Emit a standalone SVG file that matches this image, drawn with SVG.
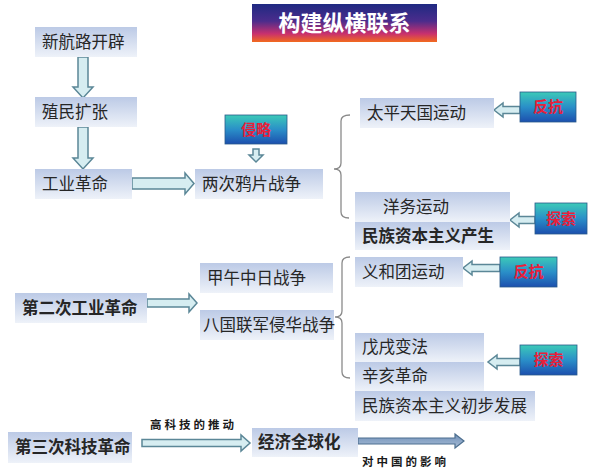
<svg xmlns="http://www.w3.org/2000/svg" width="592" height="474" viewBox="0 0 592 474">
<defs>
<linearGradient id="gBox" x1="0" y1="0" x2="0" y2="1">
<stop offset="0" stop-color="#bccae6"/>
<stop offset="1" stop-color="#eef2f9"/>
</linearGradient>
<linearGradient id="gTitle" x1="0" y1="0" x2="0" y2="1">
<stop offset="0" stop-color="#1f2a82"/>
<stop offset="0.45" stop-color="#4b2c8c"/>
<stop offset="0.78" stop-color="#c8306e"/>
<stop offset="1" stop-color="#f26a1e"/>
</linearGradient>
<linearGradient id="gTag" x1="0" y1="0" x2="0" y2="1">
<stop offset="0" stop-color="#3ccab8"/>
<stop offset="0.5" stop-color="#2a8fc8"/>
<stop offset="1" stop-color="#1c4fae"/>
</linearGradient>
<linearGradient id="gDark" x1="0" y1="0" x2="0" y2="1">
<stop offset="0" stop-color="#6f8fb8"/>
<stop offset="1" stop-color="#a8bdd6"/>
</linearGradient>
</defs>
<style>
.box{fill:url(#gBox);}
.t{font-family:"Noto Sans CJK SC","Noto Sans CJK JP",sans-serif;font-size:16.5px;fill:#262626;}
.tb{font-weight:bold;}
.tag{fill:url(#gTag);stroke:#2a5a8a;stroke-width:0.8;}
.tagt{font-family:"Noto Sans CJK SC",sans-serif;font-size:15px;font-weight:bold;fill:#e8203a;}
.arr{fill:#d6edf1;stroke:#5b8797;stroke-width:1.5;stroke-linejoin:miter;}
.arr2{fill:url(#gDark);stroke:#4d6f8f;stroke-width:1.2;}
.brace{fill:none;stroke:#8a8a8a;stroke-width:1.3;}
.small{font-family:"Noto Sans CJK SC",sans-serif;font-size:11.5px;font-weight:bold;fill:#1a1a1a;letter-spacing:3px;}
</style>
<rect width="592" height="474" fill="#ffffff"/>

<g id="title">
<rect x="252" y="4" width="185" height="38" fill="url(#gTitle)"/>
<text x="344.500" y="31" text-anchor="middle" font-family="Noto Sans CJK SC,sans-serif" font-size="22" font-weight="bold" fill="#ffffff">构建纵横联系</text>
</g>

<g id="connectors">
<polygon class="arr" points="78,57 88,57 88,87 93,87 83,98 73,87 78,87"/>
<polygon class="arr" points="78,127 88,127 88,158 93,158 83,169 73,158 78,158"/>
<polygon class="arr" points="132,178 185,178 185,173 194,183.500 185,194 185,189 132,189"/>
<polygon class="arr" points="147,299 189,299 189,294 197,303 189,312 189,307 147,307"/>
<polygon class="arr" points="253,149 259,149 259,155 263,155 256,162 249,155 253,155"/>
<polygon class="arr" points="520,106.500 503,106.500 503,103 494,110 503,117 503,113.500 520,113.500"/>
<polygon class="arr" points="535,216.500 519,216.500 519,213 510,220 519,227 519,223.500 535,223.500"/>
<polygon class="arr" points="500,264.500 472,264.500 472,261 463,268 472,275 472,271.500 500,271.500"/>
<polygon class="arr" points="520,358.500 497,358.500 497,355 488,362 497,369 497,365.500 520,365.500"/>
<polygon class="arr" points="142,439.500 241,439.500 241,435 250,443 241,451 241,446.500 142,446.500"/>
<polygon class="arr2" points="358,438 455,438 455,434 464,441 455,448 455,444 358,444"/>
<path class="brace" d="M350,115 Q341,115 341,121 V163 Q341,169 334,169 Q341,169 341,175 V212 Q341,218 349,218"/>
<path class="brace" d="M350,257 Q342,257 342,263 V311 Q342,317 335,317 Q342,317 342,323 V372 Q342,378 350,378"/>
<text class="small" x="150" y="429">高科技的推动</text>
<text class="small" x="362" y="466">对中国的影响</text>
</g>

<g id="n1"><rect class="box" x="35" y="27" width="102" height="30"/><text class="t" x="42" y="48">新航路开辟</text></g>
<g id="n2"><rect class="box" x="35" y="97" width="102" height="30"/><text class="t" x="42" y="118">殖民扩张</text></g>
<g id="n3"><rect class="box" x="35" y="169" width="97" height="30"/><text class="t" x="42" y="190">工业革命</text></g>
<g id="n4"><rect class="box" x="195" y="169" width="128" height="30"/><text class="t" x="202" y="190">两次鸦片战争</text></g>
<g id="tag-qinlue"><rect class="tag" x="225" y="115" width="62" height="29"/><text class="tagt" x="256" y="135" text-anchor="middle">侵略</text></g>
<g id="n5"><rect class="box" x="360" y="98" width="134" height="30"/><text class="t" x="367" y="119">太平天国运动</text></g>
<g id="tag-fankang1"><rect class="tag" x="520" y="92" width="56" height="30"/><text class="tagt" x="548" y="112" text-anchor="middle">反抗</text></g>
<g id="n6"><rect class="box" x="355" y="192" width="155" height="30"/><text class="t" x="383" y="213">洋务运动</text></g>
<g id="n7"><rect class="box" x="355" y="222" width="155" height="28"/><text class="t tb" x="362" y="242">民族资本主义产生</text></g>
<g id="tag-tansuo1"><rect class="tag" x="535" y="203" width="52" height="31"/><text class="tagt" x="561" y="224" text-anchor="middle">探索</text></g>
<g id="n8"><rect class="box" x="355" y="257" width="108" height="30"/><text class="t" x="362" y="278">义和团运动</text></g>
<g id="tag-fankang2"><rect class="tag" x="500" y="257" width="57" height="30"/><text class="tagt" x="528.500" y="277" text-anchor="middle">反抗</text></g>
<g id="n9"><rect class="box" x="200" y="263" width="133" height="30"/><text class="t" x="207" y="284">甲午中日战争</text></g>
<g id="n10"><rect class="box" x="15" y="293" width="132" height="30"/><text class="t tb" x="22" y="314">第二次工业革命</text></g>
<g id="n11"><rect class="box" x="200" y="310" width="134" height="30"/><text class="t" x="203" y="331">八国联军侵华战争</text></g>
<g id="n12"><rect class="box" x="355" y="333" width="129" height="29"/><text class="t" x="362" y="353">戊戌变法</text></g>
<g id="n13"><rect class="box" x="355" y="362" width="129" height="29"/><text class="t" x="362" y="382">辛亥革命</text></g>
<g id="n14"><rect class="box" x="355" y="391" width="180" height="30"/><text class="t" x="362" y="412">民族资本主义初步发展</text></g>
<g id="tag-tansuo2"><rect class="tag" x="520" y="345" width="57" height="30"/><text class="tagt" x="548.500" y="365" text-anchor="middle">探索</text></g>
<g id="n15"><rect class="box" x="8" y="432" width="124" height="31"/><text class="t tb" x="15" y="453">第三次科技革命</text></g>
<g id="n16"><rect class="box" x="252" y="428" width="106" height="29"/><text class="t tb" x="258" y="448">经济全球化</text></g>
</svg>
